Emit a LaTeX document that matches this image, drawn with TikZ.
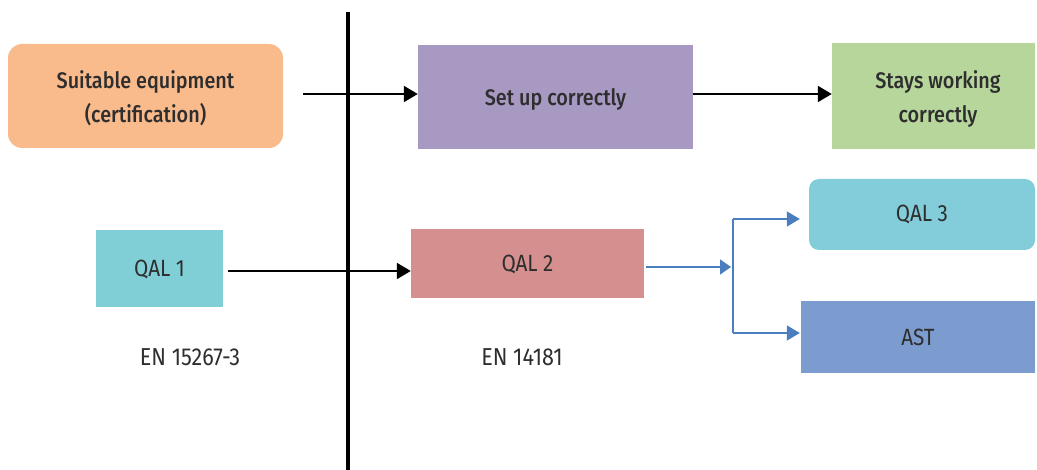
\documentclass[tikz,border=0pt]{standalone}
\usepackage{fontspec}
\setmainfont{Fira Sans}[FakeStretch=0.88, BoldFont=* Medium, BoldFeatures={FakeStretch=0.88}]
\usetikzlibrary{arrows.meta}
\definecolor{txt}{HTML}{2E2E2E}
\definecolor{corange}{HTML}{F9BA8C}
\definecolor{cpurple}{HTML}{A899C3}
\definecolor{cgreen}{HTML}{B7D69B}
\definecolor{cteal}{HTML}{80CFD7}
\definecolor{cteal3}{HTML}{83CCD9}
\definecolor{cred}{HTML}{D58F8E}
\definecolor{cast}{HTML}{7C9CD0}
\definecolor{cblue}{HTML}{4A7EBF}
\tikzset{
  box/.style={draw=none, inner sep=0pt, align=center, text=txt, font=\fontsize{23.5}{34}\selectfont},
  tbox/.style={box, font=\fontsize{22.5}{34}\selectfont\bfseries},
  lbl/.style={inner sep=0pt, text=txt, font=\fontsize{24.5}{28}\selectfont},
  blk/.style={line width=2pt, -{Triangle[length=14pt,width=16pt]}},
  blu/.style={line width=1.6pt, draw=cblue, -{Triangle[length=13pt,width=15pt]}, fill=none},
}
\begin{document}
\begin{tikzpicture}[x=1pt,y=-1pt]
\useasboundingbox (0,0) rectangle (1037,470);
\draw[line width=4.5pt] (348,12) -- (348,470);
% top row
\node[tbox, fill=corange, rounded corners=14pt, minimum width=275pt, minimum height=104pt] (eq) at (145.5,96) {};
\node[tbox] (eqtxt) at (145.5,98) {Suitable equipment\\(certification)};
\node[tbox, fill=cpurple, minimum width=275pt, minimum height=104pt] (setup) at (555.5,97) {};
\node[tbox] (setuptxt) at (555.5,99) {Set up correctly};
\node[tbox, fill=cgreen, minimum width=203pt, minimum height=106pt] (stay) at (933.5,96) {};
\node[tbox] (staytxt) at (938,99) {Stays working\\correctly};
\coordinate (eqout) at (303,94);
\draw[blk] (eqout) -- (setup.west |- eqout);
\draw[blk] (setup.east |- eqout) -- (stay.west |- eqout);
% bottom row
\node[box, fill=cteal, minimum width=127pt, minimum height=77pt] (q1) at (159.5,269) {QAL 1};
\node[box, fill=cred, minimum width=233pt, minimum height=69pt] (q2) at (527.5,264) {QAL 2};
\node[box, fill=cteal3, rounded corners=10pt, minimum width=226pt, minimum height=71pt] (q3) at (922,214.5) {QAL 3};
\node[box, fill=cast, minimum width=234pt, minimum height=72pt] (ast) at (918,337) {AST};
\coordinate (q1out) at (228,271);
\draw[blk] (q1out) -- (q2.west |- q1out);
\coordinate (q2out) at (646,267);
\coordinate (br) at (731,267);
\coordinate (bt) at (733,219);
\coordinate (bb) at (733,333);
\draw[blu, -{Triangle[length=11pt,width=15pt]}] (q2out) -- (br);
\draw[cblue, line width=1.6pt] (bt) -- (bb);
\draw[blu] (bt) -- ([xshift=-9pt]bt -| q3.west);
\draw[blu] (bb) -- ([xshift=-1pt]bb -| ast.west);
\node[lbl] (en1) at (190,357) {EN 15267-3};
\node[lbl] (en2) at (522,357) {EN 14181};
\end{tikzpicture}
\end{document}
